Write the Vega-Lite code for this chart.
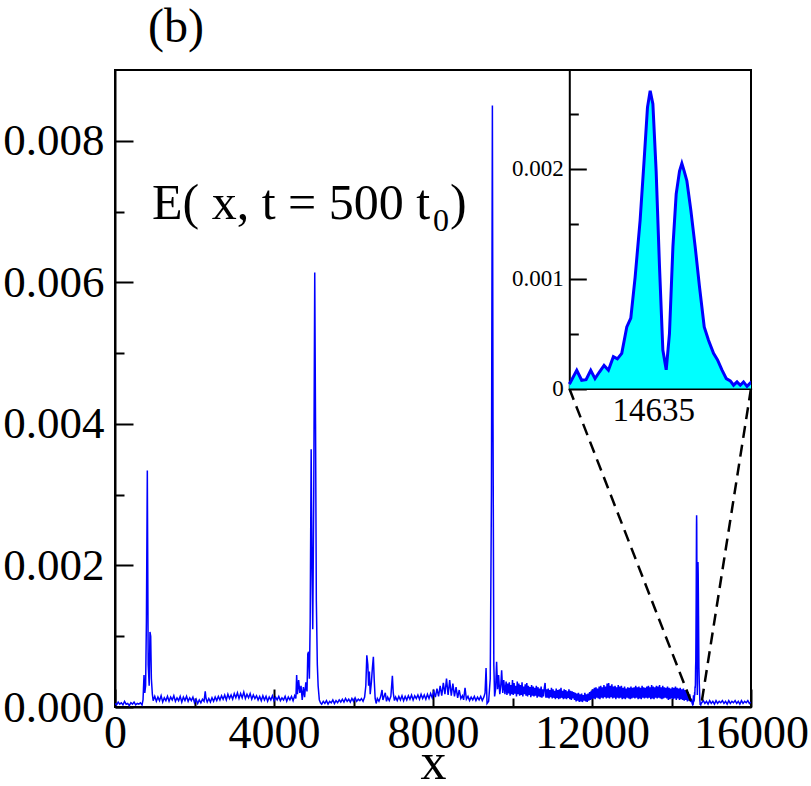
{
  "$schema": "https://vega.github.io/schema/vega-lite/v6.json",
  "width": 636,
  "height": 637,
  "autosize": {"type": "none"},
  "padding": {"left": 115, "top": 70, "right": 60, "bottom": 79},
  "background": "white",
  "config": {
    "font": "Liberation Serif",
    "view": {"stroke": "black", "strokeWidth": 2},
    "axis": {
      "grid": false,
      "domainColor": "black",
      "domainWidth": 2,
      "tickColor": "black",
      "tickWidth": 2,
      "labelColor": "black",
      "labelFont": "Liberation Serif",
      "titleFont": "Liberation Serif",
      "titleColor": "black",
      "titleFontWeight": "normal",
      "labelOverlap": false,
      "labelFlush": false
    }
  },
  "title": {
    "text": "(b)",
    "anchor": "start",
    "frame": "group",
    "dx": 33,
    "offset": 18,
    "fontSize": 48,
    "font": "Liberation Serif",
    "fontWeight": "normal",
    "color": "black"
  },
  "datasets": {
    "series": [
      {"x":0,"E":0.00005},{"x":40,"E":0.00003},{"x":80,"E":0.00007},{"x":120,"E":0.00004},{"x":160,"E":0.00006},{"x":200,"E":0.00003},{"x":240,"E":0.00008},{"x":280,"E":0.00004},{"x":320,"E":0.00005},{"x":360,"E":0.00002},{"x":400,"E":0.00006},{"x":440,"E":0.00004},{"x":480,"E":0.00007},{"x":520,"E":0.00003},{"x":560,"E":0.00005},{"x":600,"E":0.00004},{"x":640,"E":0.00006},{"x":680,"E":0.00003},
      {"x":705,"E":0.0001},{"x":730,"E":0.00045},{"x":750,"E":0.0002},{"x":770,"E":0.0003},{"x":790,"E":0.0012},{"x":813,"E":0.00334},{"x":835,"E":0.0006},{"x":860,"E":0.0003},{"x":880,"E":0.00106},{"x":898,"E":0.001},{"x":915,"E":0.0004},{"x":940,"E":0.00018},
      {"x":960,"E":0.00009},{"x":1000,"E":0.00015},{"x":1040,"E":0.00008},{"x":1080,"E":0.00014},{"x":1120,"E":0.00009},{"x":1160,"E":0.00016},{"x":1200,"E":0.00007},{"x":1240,"E":0.00013},{"x":1280,"E":0.00009},{"x":1320,"E":0.00015},{"x":1360,"E":0.00008},{"x":1400,"E":0.00014},{"x":1440,"E":0.0001},{"x":1480,"E":0.00016},{"x":1520,"E":0.00008},{"x":1560,"E":0.00013},{"x":1600,"E":0.00009},{"x":1640,"E":0.00015},{"x":1680,"E":0.00007},{"x":1720,"E":0.00014},{"x":1760,"E":0.00009},{"x":1800,"E":0.00015},{"x":1840,"E":0.00008},{"x":1880,"E":0.00013},{"x":1920,"E":0.00009},{"x":1960,"E":0.00014},{"x":2000,"E":0.00006},{"x":2040,"E":0.00011},{"x":2080,"E":0.00005},{"x":2120,"E":0.0001},{"x":2160,"E":0.00006},{"x":2200,"E":0.00011},
      {"x":2240,"E":0.00008},{"x":2270,"E":0.00022},{"x":2290,"E":0.00012},{"x":2320,"E":0.00007},
      {"x":2360,"E":0.00012},{"x":2400,"E":0.00007},{"x":2440,"E":0.00013},{"x":2480,"E":0.00008},{"x":2520,"E":0.00014},{"x":2560,"E":0.00009},{"x":2600,"E":0.00015},
      {"x":2640,"E":0.0001},{"x":2680,"E":0.00016},{"x":2720,"E":0.00011},{"x":2760,"E":0.00017},{"x":2800,"E":0.0001},{"x":2840,"E":0.00018},{"x":2880,"E":0.00012},{"x":2920,"E":0.00017},{"x":2960,"E":0.00011},{"x":3000,"E":0.00019},{"x":3040,"E":0.00013},{"x":3080,"E":0.0002},{"x":3120,"E":0.00012},{"x":3160,"E":0.00019},{"x":3200,"E":0.00013},{"x":3240,"E":0.00021},{"x":3280,"E":0.00012},{"x":3320,"E":0.00018},{"x":3360,"E":0.00013},{"x":3400,"E":0.00019},{"x":3440,"E":0.00011},{"x":3480,"E":0.00017},{"x":3520,"E":0.00012},{"x":3560,"E":0.00016},{"x":3600,"E":0.0001},
      {"x":3640,"E":0.00015},{"x":3680,"E":0.00009},{"x":3720,"E":0.00016},{"x":3760,"E":0.0001},{"x":3800,"E":0.00015},{"x":3840,"E":0.00008},{"x":3880,"E":0.00014},{"x":3920,"E":0.0001},{"x":3960,"E":0.00016},{"x":4000,"E":0.00009},{"x":4040,"E":0.00014},{"x":4080,"E":0.0001},{"x":4120,"E":0.00015},{"x":4160,"E":0.00009},{"x":4200,"E":0.00013},{"x":4240,"E":0.0001},{"x":4280,"E":0.00015},{"x":4320,"E":0.00008},{"x":4360,"E":0.00014},{"x":4400,"E":0.0001},{"x":4440,"E":0.00015},{"x":4480,"E":0.00009},
      {"x":4520,"E":0.00016},{"x":4550,"E":0.00012},{"x":4570,"E":0.00045},{"x":4590,"E":0.00018},{"x":4620,"E":0.00038},{"x":4650,"E":0.0002},{"x":4680,"E":0.0003},{"x":4710,"E":0.0001},{"x":4740,"E":0.00028},{"x":4770,"E":0.00014},{"x":4800,"E":0.00035},{"x":4830,"E":0.00022},{"x":4850,"E":0.00075},{"x":4870,"E":0.00078},{"x":4890,"E":0.0004},{"x":4910,"E":0.0012},{"x":4935,"E":0.00364},{"x":4955,"E":0.002},{"x":4975,"E":0.0011},{"x":5000,"E":0.003},{"x":5025,"E":0.00614},{"x":5045,"E":0.004},{"x":5065,"E":0.0015},{"x":5090,"E":0.0006},{"x":5110,"E":0.0003},{"x":5140,"E":0.0001},{"x":5170,"E":0.00006},
      {"x":5200,"E":0.00004},{"x":5240,"E":0.00008},{"x":5280,"E":0.00005},{"x":5320,"E":0.00009},{"x":5360,"E":0.00004},{"x":5400,"E":0.00008},{"x":5440,"E":0.00006},{"x":5480,"E":0.0001},{"x":5520,"E":0.00005},{"x":5560,"E":0.00009},{"x":5600,"E":0.00006},{"x":5640,"E":0.0001},{"x":5680,"E":0.00007},{"x":5720,"E":0.00011},{"x":5760,"E":0.00007},{"x":5800,"E":0.00012},{"x":5840,"E":0.00008},{"x":5880,"E":0.00011},{"x":5920,"E":0.00007},{"x":5960,"E":0.00012},{"x":6000,"E":0.00008},{"x":6040,"E":0.00013},{"x":6080,"E":0.00008},{"x":6120,"E":0.00011},{"x":6160,"E":0.00009},{"x":6200,"E":0.00012},{"x":6240,"E":0.00008},{"x":6280,"E":0.00014},
      {"x":6310,"E":0.0003},{"x":6335,"E":0.00073},{"x":6360,"E":0.0006},{"x":6380,"E":0.0003},{"x":6400,"E":0.0005},{"x":6420,"E":0.00018},{"x":6450,"E":0.00035},{"x":6475,"E":0.00055},{"x":6500,"E":0.00071},{"x":6520,"E":0.0004},{"x":6545,"E":0.00012},{"x":6570,"E":0.00005},{"x":6600,"E":0.00012},{"x":6640,"E":0.00008},{"x":6680,"E":0.00014},{"x":6718,"E":0.00024},{"x":6740,"E":0.0001},{"x":6770,"E":0.00015},{"x":6800,"E":0.0002},{"x":6830,"E":0.00008},{"x":6860,"E":0.00014},{"x":6900,"E":0.00009},{"x":6940,"E":0.00015},{"x":6978,"E":0.00044},{"x":7000,"E":0.0002},{"x":7030,"E":0.00009},
      {"x":7060,"E":0.00014},{"x":7100,"E":0.00009},{"x":7140,"E":0.00015},{"x":7180,"E":0.0001},{"x":7220,"E":0.00016},{"x":7260,"E":0.00009},{"x":7300,"E":0.00015},{"x":7340,"E":0.0001},{"x":7380,"E":0.00016},{"x":7420,"E":0.00011},{"x":7460,"E":0.00017},{"x":7500,"E":0.0001},{"x":7540,"E":0.00016},{"x":7580,"E":0.00012},{"x":7620,"E":0.00017},{"x":7660,"E":0.00011},{"x":7700,"E":0.00018},{"x":7740,"E":0.00012},{"x":7780,"E":0.00017},{"x":7820,"E":0.00011},{"x":7860,"E":0.00018},{"x":7900,"E":0.00012},{"x":7940,"E":0.00019},{"x":7980,"E":0.00013},
      {"x":8020,"E":0.00022},{"x":8060,"E":0.00014},{"x":8100,"E":0.00026},{"x":8140,"E":0.00015},{"x":8180,"E":0.0003},{"x":8220,"E":0.00016},{"x":8260,"E":0.00034},{"x":8300,"E":0.00018},{"x":8340,"E":0.0004},{"x":8380,"E":0.00017},{"x":8420,"E":0.00038},{"x":8460,"E":0.00016},{"x":8500,"E":0.00033},{"x":8540,"E":0.00015},{"x":8580,"E":0.00028},{"x":8620,"E":0.00013},{"x":8660,"E":0.00024},{"x":8700,"E":0.00012},
      {"x":8740,"E":0.00016},{"x":8770,"E":0.0001},{"x":8806,"E":0.00027},{"x":8840,"E":0.00011},{"x":8880,"E":0.00015},{"x":8920,"E":0.00009},{"x":8960,"E":0.00014},{"x":9000,"E":0.0001},{"x":9040,"E":0.00015},{"x":9080,"E":0.00009},{"x":9120,"E":0.00014},{"x":9160,"E":0.0001},{"x":9200,"E":0.00015},{"x":9240,"E":0.00009},{"x":9280,"E":0.00014},{"x":9310,"E":0.0002},{"x":9335,"E":0.00055},{"x":9360,"E":0.00005},{"x":9400,"E":0.00008},{"x":9440,"E":0.0004},{"x":9470,"E":0.003},{"x":9494,"E":0.0085},{"x":9510,"E":0.004},{"x":9530,"E":0.0006},{"x":9550,"E":0.00015},{"x":9575,"E":0.00025},{"x":9600,"E":0.00064},{"x":9625,"E":0.00025},{"x":9650,"E":0.00045},{"x":9680,"E":0.00018},{"x":9705,"E":0.0003},{"x":9727,"E":0.00052},{"x":9755,"E":0.0002},{"x":9780,"E":0.00038},{"x":9810,"E":0.00018},
      {"x":9840,"E":0.00036},{"x":9860,"E":0.00017},{"x":9880,"E":0.00033},{"x":9900,"E":0.00019},{"x":9920,"E":0.00035},{"x":9940,"E":0.00016},{"x":9960,"E":0.00031},{"x":9980,"E":0.00018},{"x":10000,"E":0.00038},{"x":10020,"E":0.00017},{"x":10040,"E":0.00034},{"x":10060,"E":0.00019},{"x":10080,"E":0.0003},{"x":10100,"E":0.00015},{"x":10120,"E":0.00036},{"x":10140,"E":0.00018},{"x":10160,"E":0.00033},{"x":10180,"E":0.00016},{"x":10200,"E":0.00031},{"x":10220,"E":0.00017},{"x":10240,"E":0.00035},{"x":10260,"E":0.00015},{"x":10280,"E":0.00029},{"x":10300,"E":0.00018},{"x":10320,"E":0.00032},{"x":10340,"E":0.00016},{"x":10360,"E":0.00034},{"x":10380,"E":0.00015},{"x":10400,"E":0.0003},{"x":10420,"E":0.00017},{"x":10440,"E":0.00028},{"x":10460,"E":0.00014},{"x":10480,"E":0.00031},{"x":10500,"E":0.00016},{"x":10520,"E":0.00029},{"x":10540,"E":0.00015},{"x":10560,"E":0.00027},{"x":10580,"E":0.00016},{"x":10600,"E":0.0003},{"x":10620,"E":0.00013},{"x":10640,"E":0.00028},{"x":10660,"E":0.00015},{"x":10680,"E":0.00026},{"x":10700,"E":0.00014},{"x":10720,"E":0.00029},{"x":10740,"E":0.00013},{"x":10760,"E":0.00025},{"x":10780,"E":0.00015},{"x":10800,"E":0.00027},{"x":10820,"E":0.00034},{"x":10840,"E":0.00013},{"x":10860,"E":0.00025},
      {"x":10880,"E":0.00013},{"x":10900,"E":0.00026},{"x":10920,"E":0.00012},{"x":10940,"E":0.00024},{"x":10960,"E":0.00014},{"x":10980,"E":0.00027},{"x":11000,"E":0.00012},{"x":11020,"E":0.00025},{"x":11040,"E":0.00013},{"x":11060,"E":0.00023},{"x":11080,"E":0.00011},{"x":11100,"E":0.00026},{"x":11120,"E":0.00013},{"x":11140,"E":0.00024},{"x":11160,"E":0.00011},{"x":11180,"E":0.00025},{"x":11200,"E":0.00012},{"x":11220,"E":0.00027},{"x":11240,"E":0.00013},{"x":11260,"E":0.00023},{"x":11280,"E":0.00011},{"x":11300,"E":0.00025},{"x":11320,"E":0.00012},{"x":11340,"E":0.00024},{"x":11360,"E":0.00011},{"x":11380,"E":0.00022},{"x":11400,"E":0.00013},{"x":11420,"E":0.00025},{"x":11440,"E":0.00011},{"x":11460,"E":0.00023},{"x":11480,"E":0.0001},{"x":11500,"E":0.00022},{"x":11520,"E":0.00012},{"x":11540,"E":0.00021},{"x":11560,"E":0.0001},{"x":11580,"E":0.0002},
      {"x":11600,"E":0.00008},{"x":11620,"E":0.00019},{"x":11640,"E":0.00009},{"x":11660,"E":0.0002},{"x":11680,"E":0.00007},{"x":11700,"E":0.00018},{"x":11720,"E":0.00008},{"x":11740,"E":0.00019},{"x":11760,"E":0.00007},{"x":11780,"E":0.00017},{"x":11800,"E":0.00009},{"x":11820,"E":0.0002},{"x":11840,"E":0.00008},{"x":11860,"E":0.00018},{"x":11880,"E":0.00007},{"x":11900,"E":0.00019},{"x":11920,"E":0.00009},{"x":11940,"E":0.00021},{"x":11960,"E":0.0001},{"x":11980,"E":0.00023},
      {"x":12000,"E":0.00011},{"x":12020,"E":0.00025},{"x":12040,"E":0.00012},{"x":12060,"E":0.00027},{"x":12080,"E":0.00011},{"x":12100,"E":0.00028},{"x":12120,"E":0.00013},{"x":12140,"E":0.00026},{"x":12160,"E":0.00012},{"x":12180,"E":0.00029},{"x":12200,"E":0.00011},{"x":12220,"E":0.0003},{"x":12240,"E":0.00013},{"x":12260,"E":0.00028},{"x":12280,"E":0.00012},{"x":12300,"E":0.00031},{"x":12320,"E":0.00014},{"x":12340,"E":0.00029},{"x":12360,"E":0.00012},{"x":12380,"E":0.00033},{"x":12400,"E":0.00013},{"x":12420,"E":0.00034},{"x":12440,"E":0.00012},{"x":12460,"E":0.0003},{"x":12480,"E":0.00014},{"x":12500,"E":0.00032},{"x":12520,"E":0.00012},{"x":12540,"E":0.00029},{"x":12560,"E":0.00013},{"x":12580,"E":0.0003},{"x":12600,"E":0.00011},{"x":12620,"E":0.00028},{"x":12640,"E":0.00013},{"x":12660,"E":0.00031},{"x":12680,"E":0.00012},{"x":12700,"E":0.00029},{"x":12720,"E":0.00013},{"x":12740,"E":0.0003},{"x":12760,"E":0.00011},{"x":12780,"E":0.00027},{"x":12800,"E":0.00012},{"x":12820,"E":0.00029},{"x":12840,"E":0.00011},{"x":12860,"E":0.00026},{"x":12880,"E":0.00013},{"x":12900,"E":0.00028},{"x":12920,"E":0.00012},{"x":12940,"E":0.00027},{"x":12960,"E":0.00011},{"x":12980,"E":0.00029},{"x":13000,"E":0.00012},{"x":13020,"E":0.00027},{"x":13040,"E":0.00013},{"x":13060,"E":0.00028},{"x":13080,"E":0.00012},{"x":13100,"E":0.0003},{"x":13120,"E":0.00013},{"x":13140,"E":0.00028},{"x":13160,"E":0.00011},{"x":13180,"E":0.00029},{"x":13200,"E":0.00012},{"x":13220,"E":0.00027},{"x":13240,"E":0.00011},{"x":13260,"E":0.0003},{"x":13280,"E":0.00013},{"x":13300,"E":0.00028},{"x":13320,"E":0.00012},{"x":13340,"E":0.00027},{"x":13360,"E":0.00013},{"x":13380,"E":0.00029},{"x":13400,"E":0.00012},{"x":13420,"E":0.0003},{"x":13440,"E":0.00013},{"x":13460,"E":0.00028},{"x":13480,"E":0.00011},{"x":13500,"E":0.00031},{"x":13520,"E":0.00012},{"x":13540,"E":0.00029},{"x":13560,"E":0.00011},{"x":13580,"E":0.00028},{"x":13600,"E":0.00013},{"x":13620,"E":0.0003},{"x":13640,"E":0.00012},{"x":13660,"E":0.00029},{"x":13680,"E":0.00013},{"x":13700,"E":0.00031},{"x":13720,"E":0.00012},{"x":13740,"E":0.00028},{"x":13760,"E":0.00011},{"x":13780,"E":0.0003},{"x":13800,"E":0.00012},{"x":13820,"E":0.00028},{"x":13840,"E":0.00013},{"x":13860,"E":0.00027},{"x":13880,"E":0.00012},{"x":13900,"E":0.00029},{"x":13920,"E":0.0001},{"x":13940,"E":0.00027},{"x":13960,"E":0.00011},{"x":13980,"E":0.00026},{"x":14000,"E":0.00012},{"x":14020,"E":0.00028},{"x":14040,"E":0.00011},{"x":14060,"E":0.00027},{"x":14080,"E":0.00012},{"x":14100,"E":0.00029},{"x":14120,"E":0.0001},{"x":14140,"E":0.00027},{"x":14160,"E":0.00012},{"x":14180,"E":0.00026},{"x":14200,"E":0.0001},{"x":14220,"E":0.00027},{"x":14240,"E":0.00011},{"x":14260,"E":0.00025},{"x":14280,"E":0.0001},{"x":14300,"E":0.00026},{"x":14320,"E":0.00009},{"x":14340,"E":0.00024},{"x":14360,"E":0.0001},{"x":14380,"E":0.00023},{"x":14400,"E":0.00008},{"x":14420,"E":0.00021},{"x":14440,"E":0.00009},{"x":14460,"E":0.00018},{"x":14480,"E":0.00007},{"x":14500,"E":0.00012},{"x":14520,"E":0.00005},{"x":14535,"E":0.00003},
      {"x":14545,"E":0.00004},{"x":14545.8,"E":0.000051},{"x":14553,"E":0.000166},{"x":14558.3,"E":0.000075},{"x":14563,"E":0.00008},{"x":14568,"E":0.000166},{"x":14572.6,"E":0.00009},{"x":14577.3,"E":0.00015},{"x":14582.3,"E":0.00021},{"x":14587,"E":0.000166},{"x":14592.3,"E":0.00029},{"x":14596.6,"E":0.00027},{"x":14601.3,"E":0.00032},{"x":14606.7,"E":0.00056},{"x":14611,"E":0.00064},{"x":14615.6,"E":0.00101},{"x":14621,"E":0.00153},{"x":14625.3,"E":0.00208},{"x":14628.9,"E":0.00256},{"x":14631.8,"E":0.00271},{"x":14634.7,"E":0.00259},{"x":14638.2,"E":0.00198},{"x":14641.8,"E":0.00111},{"x":14645.4,"E":0.00035},{"x":14649,"E":0.00017},{"x":14652.5,"E":0.0005},{"x":14656.2,"E":0.00129},{"x":14659.7,"E":0.00177},{"x":14663.3,"E":0.00198},{"x":14665.8,"E":0.00205},{"x":14668.3,"E":0.00198},{"x":14671.2,"E":0.00189},{"x":14675.5,"E":0.00162},{"x":14680.1,"E":0.00129},{"x":14684.8,"E":0.00092},{"x":14689.8,"E":0.00056},{"x":14694.4,"E":0.00044},{"x":14699.8,"E":0.00032},{"x":14704.1,"E":0.00026},{"x":14708.8,"E":0.00017},{"x":14713.5,"E":0.00009},{"x":14717.8,"E":0.00007},{"x":14721.3,"E":0.00003},{"x":14725,"E":0.00006},{"x":14728.5,"E":0.00003},{"x":14732,"E":0.00006},{"x":14735.7,"E":0.00002},{"x":14739.3,"E":0.00005},{"x":14740,"E":0.00004},
      {"x":14760,"E":0.00006},{"x":14800,"E":0.00009},{"x":14840,"E":0.00005},{"x":14880,"E":0.00008},{"x":14920,"E":0.00004},{"x":14960,"E":0.00009},{"x":15000,"E":0.00005},{"x":15040,"E":0.00008},{"x":15080,"E":0.00004},{"x":15120,"E":0.00009},{"x":15160,"E":0.00005},{"x":15200,"E":0.00008},{"x":15240,"E":0.00006},{"x":15280,"E":0.00009},{"x":15320,"E":0.00005},{"x":15360,"E":0.00008},{"x":15400,"E":0.00004},{"x":15440,"E":0.00009},{"x":15480,"E":0.00005},{"x":15520,"E":0.00008},{"x":15560,"E":0.00006},{"x":15600,"E":0.00009},{"x":15640,"E":0.00005},{"x":15680,"E":0.00008},{"x":15720,"E":0.00004},{"x":15760,"E":0.00009},{"x":15800,"E":0.00005},{"x":15840,"E":0.00008},{"x":15880,"E":0.00006},{"x":15920,"E":0.00009},{"x":15960,"E":0.00005},{"x":16000,"E":0.00007}
    ],
    "zoomLines": [
      {"x": 11430, "E": 0.0045, "x2": 14545, "E2": 0},
      {"x": 16000, "E": 0.0045, "x2": 14740, "E2": 0}
    ]
  },
  "layer": [
    {
      "layer": [
        {
          "data": {"name": "series"},
          "mark": {"type": "line", "color": "#0000ff", "strokeWidth": 1.5, "clip": true},
          "encoding": {
            "x": {
              "field": "x", "type": "quantitative",
              "scale": {"domain": [0, 16000], "nice": false, "zero": false},
              "axis": {
                "title": "x",
                "titleFontSize": 52,
                "titleBaseline": "alphabetic",
                "titleY": 71,
                "values": [0, 2000, 4000, 6000, 8000, 10000, 12000, 14000, 16000],
                "format": "d",
                "labelExpr": "datum.value % 4000 == 0 ? datum.label : ''",
                "labelFontSize": 46,
                "labelPadding": 22,
                "tickSize": {"condition": {"test": "datum.value % 4000 == 0", "value": -18}, "value": -9}
              }
            },
            "y": {
              "field": "E", "type": "quantitative",
              "scale": {"domain": [0, 0.009], "nice": false},
              "axis": {
                "title": null,
                "values": [0, 0.001, 0.002, 0.003, 0.004, 0.005, 0.006, 0.007, 0.008],
                "labelExpr": "round(datum.value * 1000) % 2 == 0 ? format(datum.value, '.3f') : ''",
                "labelFontSize": 45,
                "labelPadding": 29,
                "tickSize": {"condition": {"test": "round(datum.value * 1000) % 2 == 0", "value": -18}, "value": -9}
              }
            }
          }
        },
        {
          "data": {"name": "zoomLines"},
          "mark": {"type": "rule", "color": "black", "strokeWidth": 2.5, "strokeDash": [12, 7]},
          "encoding": {
            "x": {"field": "x", "type": "quantitative"},
            "y": {"field": "E", "type": "quantitative"},
            "x2": {"field": "x2"},
            "y2": {"field": "E2"}
          }
        },
        {
          "data": {"values": [{"label": "E( x, t = 500 t"}]},
          "mark": {"type": "text", "align": "left", "baseline": "alphabetic", "fontSize": 50, "font": "Liberation Serif", "color": "black"},
          "encoding": {
            "x": {"datum": 931, "type": "quantitative"},
            "y": {"datum": 0.0069, "type": "quantitative"},
            "text": {"field": "label"}
          }
        },
        {
          "data": {"values": [{"label": "0"}]},
          "mark": {"type": "text", "align": "left", "baseline": "alphabetic", "fontSize": 32, "font": "Liberation Serif", "color": "black", "dx": 281, "dy": 12},
          "encoding": {
            "x": {"datum": 931, "type": "quantitative"},
            "y": {"datum": 0.0069, "type": "quantitative"},
            "text": {"field": "label"}
          }
        },
        {
          "data": {"values": [{"label": ")"}]},
          "mark": {"type": "text", "align": "left", "baseline": "alphabetic", "fontSize": 50, "font": "Liberation Serif", "color": "black", "dx": 298},
          "encoding": {
            "x": {"datum": 931, "type": "quantitative"},
            "y": {"datum": 0.0069, "type": "quantitative"},
            "text": {"field": "label"}
          }
        }
      ]
    },
    {
      "data": {"name": "series"},
      "transform": [{"filter": "datum.x >= 14545 && datum.x <= 14740"}],
      "mark": {"type": "area", "color": "#00ffff", "opacity": 1, "clip": true, "line": {"color": "#0000ff", "strokeWidth": 3}},
      "encoding": {
        "x": {
          "field": "x", "type": "quantitative",
          "scale": {"domain": [14545, 14740], "range": [454.3, 636], "nice": false, "zero": false},
          "axis": {
            "orient": "bottom",
            "offset": -318.5,
            "title": null,
            "values": [14635],
            "format": "d",
            "labelFontSize": 33,
            "labelPadding": 24,
            "tickSize": -18
          }
        },
        "y": {
          "field": "E", "type": "quantitative",
          "scale": {"domain": [0, 0.0029], "range": [318.5, 0], "nice": false},
          "axis": {
            "orient": "left",
            "offset": -454.3,
            "title": null,
            "values": [0, 0.0005, 0.001, 0.0015, 0.002, 0.0025],
            "labelExpr": "datum.value == 0 ? '0' : (round(datum.value * 2000) % 2 == 0 ? format(datum.value, '.3f') : '')",
            "labelFontSize": 23,
            "labelPadding": 23,
            "tickSize": {"condition": {"test": "round(datum.value * 2000) % 2 == 0", "value": -17}, "value": -9}
          }
        }
      }
    }
  ],
  "resolve": {"scale": {"x": "independent", "y": "independent"}}
}
